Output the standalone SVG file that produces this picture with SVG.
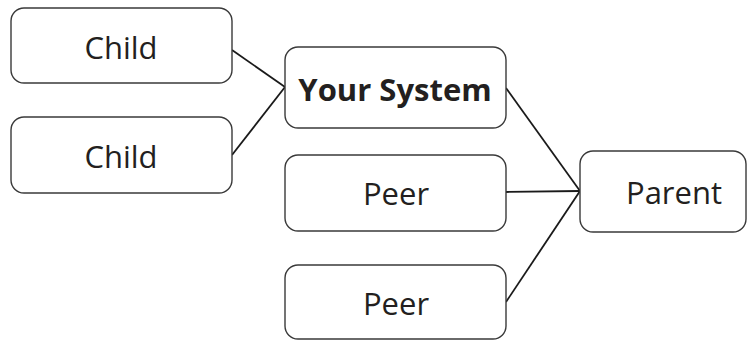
<svg xmlns="http://www.w3.org/2000/svg" width="756" height="341" viewBox="0 0 756 341">
  <style>
    .box { fill: #ffffff; stroke: #3a3a3a; stroke-width: 1.4; }
    .label { font-family: "Open Sans", "Liberation Sans", sans-serif; font-size: 31px; fill: #231f20; text-anchor: middle; }
    .bold { font-weight: bold; }
    .link { stroke: #1a1a1a; stroke-width: 1.8; fill: none; }
  </style>
  <rect width="756" height="341" fill="#ffffff"/>
  <g id="connectors">
    <line class="link" x1="232" y1="50" x2="285" y2="87"/>
    <line class="link" x1="232" y1="155" x2="285" y2="87"/>
    <line class="link" x1="506" y1="88" x2="580" y2="191"/>
    <line class="link" x1="506" y1="192" x2="580" y2="191"/>
    <line class="link" x1="506" y1="302" x2="580" y2="191"/>
  </g>
  <g id="child1">
    <rect class="box" x="11" y="8" width="221" height="75" rx="13"/>
    <text class="label" x="121" y="59">Child</text>
  </g>
  <g id="child2">
    <rect class="box" x="11" y="117" width="221" height="76" rx="13"/>
    <text class="label" x="121" y="168">Child</text>
  </g>
  <g id="your-system">
    <rect class="box" x="285" y="47" width="221" height="81" rx="13"/>
    <text class="label bold" x="395" y="101">Your System</text>
  </g>
  <g id="peer1">
    <rect class="box" x="285" y="155" width="221" height="76" rx="13"/>
    <text class="label" x="396" y="205">Peer</text>
  </g>
  <g id="peer2">
    <rect class="box" x="285" y="265" width="221" height="74" rx="13"/>
    <text class="label" x="396" y="315">Peer</text>
  </g>
  <g id="parent">
    <rect class="box" x="580" y="151" width="166" height="81" rx="13"/>
    <text class="label" x="674" y="204">Parent</text>
  </g>
</svg>
